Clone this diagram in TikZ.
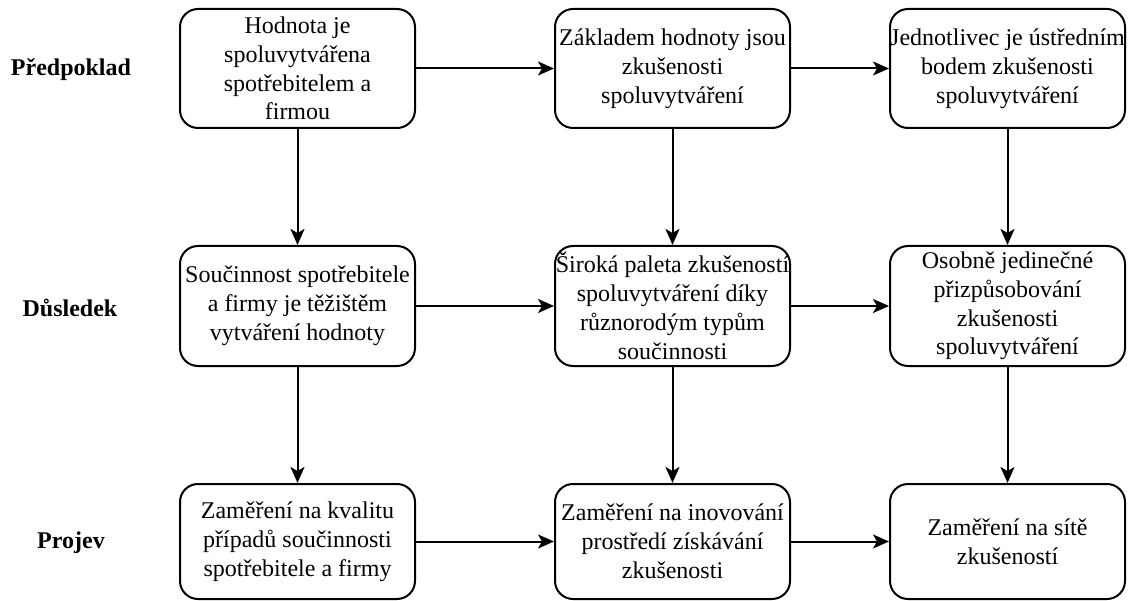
\documentclass[tikz,border=0pt]{standalone}
\usepackage{fontspec}
\setmainfont{Liberation Serif}
\usetikzlibrary{arrows.meta}
\begin{document}
\begin{tikzpicture}[x=1pt,y=-1pt,
  box/.style={draw=black, line width=2pt, rounded corners=18pt, minimum width=235pt,
    align=center, inner sep=0pt, font=\fontsize{24}{28.8}\selectfont},
  lab/.style={font=\fontsize{24}{28.8}\selectfont\bfseries},
  arr/.style={line width=2pt, -{Stealth[length=16pt,width=14pt,inset=4pt]}}]
\useasboundingbox (0,0) rectangle (1129,601);
% row labels
\node[lab] (l1) at (71,70) {Předpoklad};
\node[lab] (l2) at (70,308) {Důsledek};
\node[lab] (l3) at (71,543) {Projev};
% row 1
\node[box, minimum height=119pt] (b11) at (297.5,68.5) {Hodnota je\\spoluvytvářena\\spotřebitelem a\\firmou};
\node[box, minimum height=119pt] (b12) at (672.5,68.5) {Základem hodnoty jsou\\zkušenosti\\spoluvytváření};
\node[box, minimum height=119pt] (b13) at (1007.5,68.5) {Jednotlivec je ústředním\\bodem zkušenosti\\spoluvytváření};
% row 2
\node[box, minimum height=120pt] (b21) at (297.5,306) {Součinnost spotřebitele\\a firmy je těžištěm\\vytváření hodnoty};
\node[box, minimum height=120pt] (b22) at (672.5,306) {Široká paleta zkušeností\\spoluvytváření díky\\různorodým typům\\součinnosti};
\node[box, minimum height=120pt] (b23) at (1007.5,306) {Osobně jedinečné\\přizpůsobování\\zkušenosti\\spoluvytváření};
% row 3
\node[box, minimum height=115pt] (b31) at (297.5,541.5) {Zaměření na kvalitu\\případů součinnosti\\spotřebitele a firmy};
\node[box, minimum height=115pt] (b32) at (672.5,541.5) {Zaměření na inovování\\prostředí získávání\\zkušenosti};
\node[box, minimum height=115pt] (b33) at (1007.5,541.5) {Zaměření na sítě\\zkušeností};
% horizontal arrows
\draw[arr] (b11.east) -- (b12.west);
\draw[arr] (b12.east) -- (b13.west);
\draw[arr] (b21.east) -- (b22.west);
\draw[arr] (b22.east) -- (b23.west);
\draw[arr] (b31.east) -- (b32.west);
\draw[arr] (b32.east) -- (b33.west);
% vertical arrows
\draw[arr] (b11.south) -- (b21.north);
\draw[arr] (b12.south) -- (b22.north);
\draw[arr] (b13.south) -- (b23.north);
\draw[arr] (b21.south) -- (b31.north);
\draw[arr] (b22.south) -- (b32.north);
\draw[arr] (b23.south) -- (b33.north);
\end{tikzpicture}
\end{document}
